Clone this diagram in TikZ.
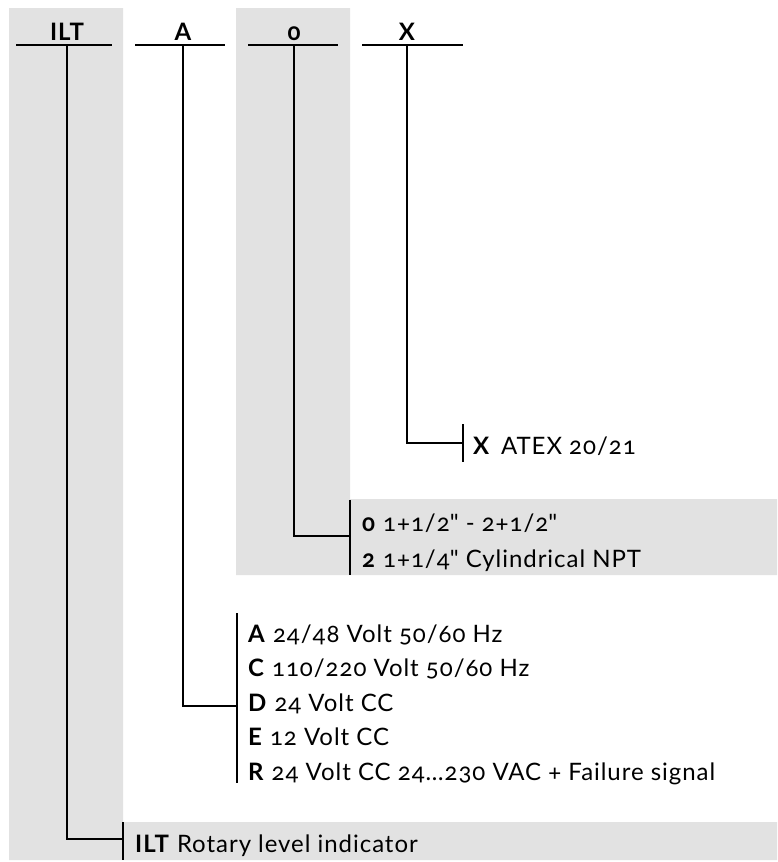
\documentclass[tikz,border=0pt]{standalone}
\usepackage{fontspec}
\setmainfont{Lato}[Numbers=OldStyle,LetterSpace=4]
\usepackage{tikz}
\usetikzlibrary{positioning}
\definecolor{panel}{RGB}{226,226,226}

\begin{document}
\begin{tikzpicture}[x=1pt,y=-1pt,
  lead/.style={line width=2pt},
  head/.style={font=\fontsize{24}{28}\selectfont\bfseries,anchor=base,inner sep=0pt},
  opt/.style={font=\fontsize{24}{28}\selectfont,anchor=base west,inner sep=0pt}]
  \useasboundingbox (0,0) rectangle (777,862);
  % shaded panels
  \fill[panel] (9,8) rectangle (123,860) (123,822) rectangle (777,860);
  \fill[panel] (236,8) rectangle (350,575) (350,499) rectangle (777,575);
  % code letters
  \node[head] (ilt) at (67,40) {ILT};
  \node[head] (a) at (183,40) {A};
  \node[head] (o) at (294,40) {0};
  \node[head] (x) at (407,40) {X};
  \foreach \xa/\xb in {16/112,135/225,248/338,362/463} \draw[lead] (\xa,45) -- (\xb,45);
  \coordinate (iltbar) at (67,45);
  \coordinate (abar) at (183,45);
  \coordinate (obar) at (294,45);
  \coordinate (xbar) at (407,45);
  % options
  \node[opt] (optX) at (473,454) {\textbf{X}\hspace{0.45em}ATEX 20/21};
  \node[opt] (opt0) at (362,531) {\textbf{0} 1+1/2\textquotedbl{} - 2+1/2\textquotedbl};
  \node[opt] (opt2) at (362,567) {\textbf{2} 1+1/4\textquotedbl{} Cylindrical NPT};
  \node[opt] (optA) at (248,642) {\textbf{A} 24/48 Volt 50/60 Hz};
  \node[opt] (optC) at (248,676.5) {\textbf{C} 110/220 Volt 50/60 Hz};
  \node[opt] (optD) at (248,711) {\textbf{D} 24 Volt CC};
  \node[opt] (optE) at (248,745) {\textbf{E} 12 Volt CC};
  \node[opt] (optR) at (248,780) {\textbf{R} 24 Volt CC 24…230 VAC + Failure signal};
  \node[opt] (optILT) at (135,852) {\textbf{ILT} Rotary level indicator};
  % brackets
  \draw[lead] (463,424) -- (463,462);
  \draw[lead] (350,500) -- (350,575);
  \draw[lead] (237,613) -- (237,783);
  \draw[lead] (123,822) -- (123,860);
  \coordinate (xend) at (463,443);
  \coordinate (oend) at (350,536);
  \coordinate (aend) at (237,706);
  \coordinate (iltend) at (123,839);
  % leads
  \draw[lead] (xbar) |- (xend);
  \draw[lead] (obar) |- (oend);
  \draw[lead] (abar) |- (aend);
  \draw[lead] (iltbar) |- (iltend);
\end{tikzpicture}
\end{document}
